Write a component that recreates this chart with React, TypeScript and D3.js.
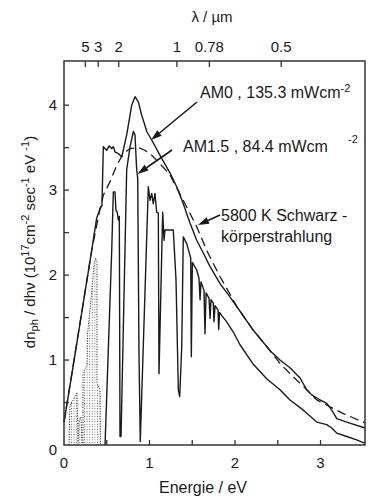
import React from "react";
import * as d3 from "d3";

// ---- data (energy in eV, photon flux in 1e17 cm^-2 s^-1 eV^-1) ----
const am0: [number, number][] = [
  [0, 0.27], [0.109, 0.94], [0.324, 2.29], [0.382, 2.67], [0.421, 2.78], [0.444, 2.82],
  [0.46, 3.51], [0.499, 3.47], [0.53, 3.52], [0.558, 3.49], [0.577, 3.51], [0.596, 3.45],
  [0.635, 3.43], [0.675, 3.39], [0.733, 3.65], [0.792, 4.0], [0.83, 4.1], [0.869, 4.04],
  [0.909, 3.88], [0.947, 3.76], [0.967, 3.69], [1.026, 3.59], [1.123, 3.41], [1.24, 3.2],
  [1.318, 3.04], [1.395, 2.84], [1.474, 2.61], [1.552, 2.41], [1.629, 2.26], [1.708, 2.1],
  [1.825, 1.9], [1.942, 1.74], [2.02, 1.63], [2.214, 1.35], [2.37, 1.16], [2.41, 1.11],
  [2.526, 1.0], [2.643, 0.91], [2.76, 0.79], [2.838, 0.65], [2.897, 0.59], [2.994, 0.53],
  [3.073, 0.49], [3.131, 0.41], [3.19, 0.31], [3.306, 0.27], [3.52, 0.2],
];

const blackbody: [number, number][] = [
  [0, 0.27], [0.324, 2.29], [0.421, 2.78], [0.46, 2.94], [0.538, 3.1], [0.616, 3.29],
  [0.694, 3.43], [0.772, 3.49], [0.869, 3.5], [0.947, 3.47], [1.026, 3.41], [1.123, 3.31],
  [1.24, 3.18], [1.415, 2.84], [1.552, 2.57], [1.669, 2.29], [1.825, 1.98], [1.961, 1.74],
  [2.02, 1.63], [2.214, 1.35], [2.37, 1.16], [2.526, 0.96], [2.643, 0.84], [2.799, 0.69],
  [2.956, 0.53], [3.111, 0.45], [3.267, 0.37], [3.52, 0.26],
];

const am15: [number, number][] = [
  [0.48, 0], [0.558, 2.29], [0.577, 2.98], [0.596, 2.98], [0.608, 2.76], [0.623, 2.74],
  [0.635, 2.65], [0.647, 2.69], [0.655, 0.1], [0.667, 0.1], [0.733, 3.24], [0.772, 3.51],
  [0.811, 3.69], [0.83, 3.65], [0.85, 3.24], [0.862, 3.14], [0.877, 1.08], [0.892, 0.04],
  [0.986, 3.04], [1.006, 2.88], [1.026, 2.96], [1.044, 2.84], [1.064, 2.96], [1.084, 2.74],
  [1.103, 2.73], [1.111, 0.84], [1.154, 2.74], [1.17, 2.41], [1.181, 2.53], [1.278, 2.53],
  [1.31, 1.94], [1.337, 0.65], [1.353, 0.57], [1.377, 1.16], [1.395, 2.45], [1.435, 2.37],
  [1.482, 2.2], [1.489, 1.04], [1.501, 2.15], [1.552, 2.06], [1.579, 1.96], [1.591, 1.71],
  [1.602, 1.92], [1.637, 1.82], [1.649, 1.31], [1.661, 1.79], [1.696, 1.73], [1.708, 1.49],
  [1.719, 1.71], [1.746, 1.67], [1.754, 1.45], [1.766, 1.64], [1.801, 1.59], [1.809, 1.36],
  [1.819, 1.56], [1.848, 1.52], [1.903, 1.45], [1.98, 1.33], [2.058, 1.18], [2.214, 0.95],
  [2.37, 0.78], [2.526, 0.65], [2.643, 0.53], [2.799, 0.41], [2.956, 0.27], [3.073, 0.24],
  [3.131, 0.2], [3.19, 0.14], [3.306, 0.1], [3.423, 0.06], [3.52, 0.02],
];

const am15Dotted: [number, number][] = [
  [0.058, 0], [0.07, 0.47], [0.117, 0.55], [0.152, 0.62], [0.164, 0.02], [0.175, 0.29],
  [0.199, 0.33], [0.211, 0.02], [0.222, 0.02], [0.222, 0.85], [0.269, 0.94], [0.275, 1.31],
  [0.316, 1.71], [0.351, 2.12], [0.368, 2.2], [0.386, 2.15], [0.386, 0.73], [0.421, 0.65],
  [0.427, 0],
];

const xTickValues = [0, 1, 2, 3];
const xMinorTicks = [0.5, 1, 1.5, 2, 2.5, 3];
const yTickValues = [0, 1, 2, 3, 4];
const yMinorTicks = [0.5, 1, 1.5, 2, 2.5, 3, 3.5, 4];
const lambdaLabels = ["5", "3", "2", "1", "0.78", "0.5"];
const lambdaEnergy = [0.25, 0.4, 0.64, 1.32, 1.7, 2.54];

const W = 389;
const H = 503;
const FONT = "'Liberation Sans', Arial, Helvetica, sans-serif";
const INK = "#1a1a1a";

export default function App() {
  const x = d3.scaleLinear().domain([0, 3.52]).range([64, 365]);
  const y = d3.scaleLinear().domain([0, 4.52]).range([445, 61]);
  const line = d3
    .line<[number, number]>()
    .x((d) => x(d[0]))
    .y((d) => y(d[1]));
  const area = d3
    .area<[number, number]>()
    .x((d) => x(d[0]))
    .y0(y(0))
    .y1((d) => y(d[1]));

  const arrow = (x1: number, y1: number, x2: number, y2: number, key: string) => {
    const ang = Math.atan2(y2 - y1, x2 - x1);
    const L = 11, Wd = 3.5;
    const bx = x2 - L * Math.cos(ang), by = y2 - L * Math.sin(ang);
    const px = -Math.sin(ang) * Wd, py = Math.cos(ang) * Wd;
    return (
      <g key={key}>
        <line x1={x1} y1={y1} x2={bx} y2={by} stroke={INK} strokeWidth={1.6} />
        <polygon points={`${x2},${y2} ${bx + px},${by + py} ${bx - px},${by - py}`} fill={INK} />
      </g>
    );
  };

  return (
    <svg
      width={W}
      height={H}
      style={{ position: "absolute", left: 0, top: 0, background: "#fff" }}
      fontFamily={FONT}
    >
      <defs>
        <pattern id="hatch" width={2.6} height={2.6} patternUnits="userSpaceOnUse">
          <rect x={0.8} y={0} width={0.8} height={0.9} fill="#444" />
        </pattern>
      </defs>

      {/* dotted AM1.5 low-energy part */}
      <path d={area(am15Dotted) || ""} fill="url(#hatch)" stroke="none" />
      <path d={line(am15Dotted) || ""} fill="none" stroke="#222" strokeWidth={1} strokeDasharray="1,1.5" />

      {/* curves */}
      <path d={line(blackbody) || ""} fill="none" stroke={INK} strokeWidth={1.3} strokeDasharray="9,5" />
      <path d={line(am0) || ""} fill="none" stroke={INK} strokeWidth={1.4} strokeLinejoin="round" />
      <path d={line(am15) || ""} fill="none" stroke={INK} strokeWidth={1.4} strokeLinejoin="round" />

      {/* frame */}
      <rect x={64} y={61} width={301} height={384} fill="none" stroke="#333" strokeWidth={1.5} />

      {/* bottom ticks */}
      {xMinorTicks.map((t) => (
        <line key={"xm" + t} x1={x(t)} x2={x(t)} y1={445} y2={440} stroke="#333" strokeWidth={1.3} />
      ))}
      {xTickValues.map((t) => (
        <text key={"xt" + t} x={x(t)} y={468} textAnchor="middle" fontSize={15} fill={INK}>
          {t}
        </text>
      ))}
      {/* left ticks */}
      {yMinorTicks.map((t) => (
        <line key={"ym" + t} x1={64} x2={69} y1={y(t)} y2={y(t)} stroke="#333" strokeWidth={1.3} />
      ))}
      {yTickValues.map((t) => (
        <text
          key={"yt" + t}
          x={57}
          y={y(t) + (t === 0 ? 10 : 5)}
          textAnchor="end"
          fontSize={15}
          fill={INK}
        >
          {t}
        </text>
      ))}
      {/* top wavelength ticks */}
      {lambdaEnergy.map((e, i) => (
        <g key={"lt" + i}>
          <line x1={x(e)} x2={x(e)} y1={61} y2={67} stroke="#333" strokeWidth={1.3} />
          <text x={x(e)} y={52} textAnchor="middle" fontSize={15} fill={INK}>
            {lambdaLabels[i]}
          </text>
        </g>
      ))}

      {/* axis titles */}
      <text x={212} y={22} textAnchor="middle" fontSize={15} fill={INK}>
        λ / µm
      </text>
      <text x={203} y={493} textAnchor="middle" fontSize={16} fill={INK}>
        Energie / eV
      </text>
      <text transform="translate(35,242) rotate(-90)" textAnchor="middle" fontSize={15} fill={INK}>
        dn<tspan dy={3} fontSize={11}>ph</tspan>
        <tspan dy={-3}> / dhν (10</tspan>
        <tspan dy={-6} fontSize={11}>17</tspan>
        <tspan dy={6}>cm</tspan>
        <tspan dy={-6} fontSize={11}>-2</tspan>
        <tspan dy={6}> sec</tspan>
        <tspan dy={-6} fontSize={11}>-1</tspan>
        <tspan dy={6}> eV </tspan>
        <tspan dy={-6} fontSize={11}>-1</tspan>
        <tspan dy={6}>)</tspan>
      </text>

      {/* annotations */}
      <text x={200} y={98} fontSize={16} fill={INK}>
        AM0 , 135.3 mWcm<tspan dy={-6} fontSize={11}>-2</tspan>
      </text>
      <text x={183} y={152} fontSize={16} fill={INK}>
        AM1.5 , 84.4 mWcm
      </text>
      <text x={348} y={143} fontSize={11} fill={INK}>
        -2
      </text>
      <text x={221} y={221} fontSize={16} fill={INK}>
        5800 K Schwarz -
      </text>
      <text x={221} y={242} fontSize={16} fill={INK}>
        körperstrahlung
      </text>
      {arrow(197, 102, 151, 140, "a0")}
      {arrow(172, 150, 137.5, 174, "a15")}
      {arrow(220, 215, 198, 225, "abb")}
    </svg>
  );
}
